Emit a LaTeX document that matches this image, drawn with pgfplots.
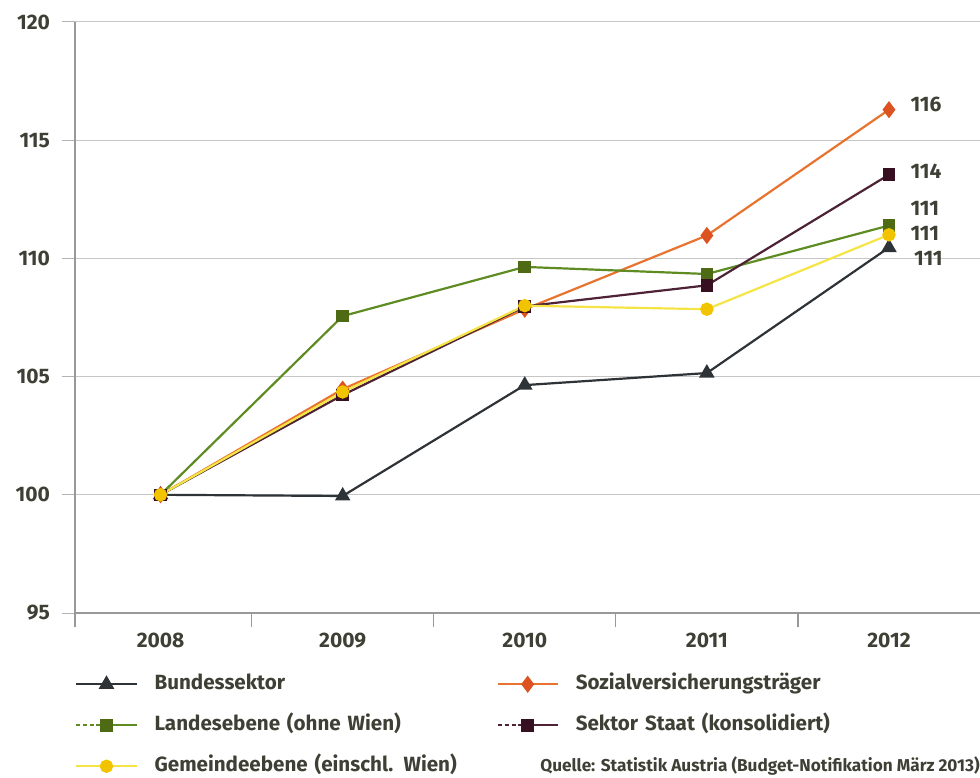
\documentclass[border=0pt]{standalone}
\usepackage{pgfplots}
\pgfplotsset{compat=1.18}
\usepackage{fontspec}
\setmainfont{Fira Sans}
\definecolor{txt}{HTML}{3F4035}
\definecolor{cbund}{HTML}{2E3338}
\definecolor{cland}{HTML}{5E8C22}
\definecolor{clandm}{HTML}{4E6A14}
\definecolor{cgem}{HTML}{F4E445}
\definecolor{cgemm}{HTML}{F2C400}
\definecolor{csoz}{HTML}{E8732E}
\definecolor{csozm}{HTML}{DC5220}
\definecolor{cstaat}{HTML}{4D2236}
\definecolor{cstaatm}{HTML}{361020}
\pgfplotsset{
  solidleg/.style={legend image code/.code={
    \draw[mark repeat=2,mark phase=2,##1] plot coordinates {(0pt,0pt)(15pt,0pt)(30pt,0pt)};}},
  dashleg/.style={legend image code/.code={
    \draw[##1,mark=none,dash pattern=on 2pt off 1.5pt] (0pt,0pt) -- (10pt,0pt);
    \draw[mark repeat=2,mark phase=2,##1] plot coordinates {(10pt,0pt)(15pt,0pt)(30pt,0pt)};}},
}
\begin{document}
\begin{tikzpicture}[x=1pt,y=1pt]
\useasboundingbox (0,0) rectangle (490,388.5);
\clip (0,0) rectangle (490,388.5);
\begin{axis}[
  at={(37.5pt,82pt)}, anchor=south west,
  scale only axis, width=452.5pt, height=295.5pt,
  xmin=-0.47, xmax=4.5, ymin=95, ymax=120,
  ytick={95,100,...,120},
  xtick={0,1,2,3,4},
  xticklabels={2008,2009,2010,2011,2012},
  xtick style={draw=none},
  extra x ticks={-0.47,0.5,1.5,2.5,3.5},
  extra x tick labels={},
  extra x tick style={major tick length=7pt, tick align=outside, xtick style={draw=gray!80, line width=0.6pt}},
  axis lines*=left,
  axis line style={draw=gray!80, line width=0.6pt},
  ytick style={draw=gray!60, line width=0.5pt},
  tick align=outside,
  major tick length=6.5pt,
  ymajorgrids,
  grid style={draw=gray!45, line width=0.5pt},
  /pgf/number format/assume math mode=true,
  ticklabel style={font=\fontsize{10.5}{12}\selectfont\bfseries, text=txt},
  yticklabel style={xshift=-2.5pt},
  xticklabel style={yshift=0pt},
  legend columns=2,
  legend style={at={(0,-0.103)}, anchor=north west, draw=none, fill=none,
    inner sep=0pt, font=\fontsize{10.3}{12.5}\selectfont\bfseries, text=txt,
    row sep=10.5pt,
    nodes={inner sep=0pt, text width=171pt, align=left, text depth=0.25em, text height=0.75em},
    /tikz/every odd column/.append style={column sep=8.5pt}},
  legend cell align=left,
]
\addplot[cbund, line width=1.1pt, mark=triangle*, mark size=3.4pt, mark options={fill=cbund, solid}, solidleg]
  coordinates {(0,100) (1,99.95) (2,104.64) (3,105.15) (4,110.46)};
\addlegendentry{Bundessektor}
\addplot[csoz, line width=1.1pt, mark=diamond*, mark size=3.4pt, mark options={fill=csozm, draw=csozm, solid}, solidleg]
  coordinates {(0,100) (1,104.47) (2,107.85) (3,110.97) (4,116.29)};
\addlegendentry{Sozialversicherungsträger}
\addplot[cland, line width=1.1pt, mark=square*, mark size=2.6pt, mark options={fill=clandm, draw=clandm, solid}, dashleg]
  coordinates {(0,100) (1,107.56) (2,109.64) (3,109.34) (4,111.39)};
\addlegendentry{Landesebene (ohne Wien)}
\addplot[cstaat, line width=1.1pt, mark=square*, mark size=2.6pt, mark options={fill=cstaatm, draw=cstaatm, solid}, dashleg]
  coordinates {(0,100) (1,104.22) (2,107.97) (3,108.86) (4,113.54)};
\addlegendentry{Sektor Staat (konsolidiert)}
\addplot[cgem, line width=1.1pt, mark=*, mark size=2.8pt, mark options={fill=cgemm, draw=cgemm, solid}, solidleg]
  coordinates {(0,100) (1,104.35) (2,108.0) (3,107.85) (4,111.0)};
\addlegendentry{Gemeindeebene (einschl. Wien)}
\node[anchor=west, text=txt, font=\fontsize{10.5}{12}\selectfont\bfseries] at (axis cs:4.08,116.5) {116};
\node[anchor=west, text=txt, font=\fontsize{10.5}{12}\selectfont\bfseries] at (axis cs:4.08,113.7) {114};
\node[anchor=west, text=txt, font=\fontsize{10.5}{12}\selectfont\bfseries] at (axis cs:4.08,112.1) {111};
\node[anchor=west, text=txt, font=\fontsize{10.5}{12}\selectfont\bfseries] at (axis cs:4.08,111.05) {111};
\node[anchor=west, text=txt, font=\fontsize{10.5}{12}\selectfont\bfseries] at (axis cs:4.1,110.0) {111};
\end{axis}
\node[anchor=base west, inner sep=0pt, text=txt, font=\fontsize{8.6}{10}\selectfont\bfseries] at (270,3) {Quelle: Statistik Austria (Budget-Notifikation März 2013)};
\end{tikzpicture}
\end{document}
